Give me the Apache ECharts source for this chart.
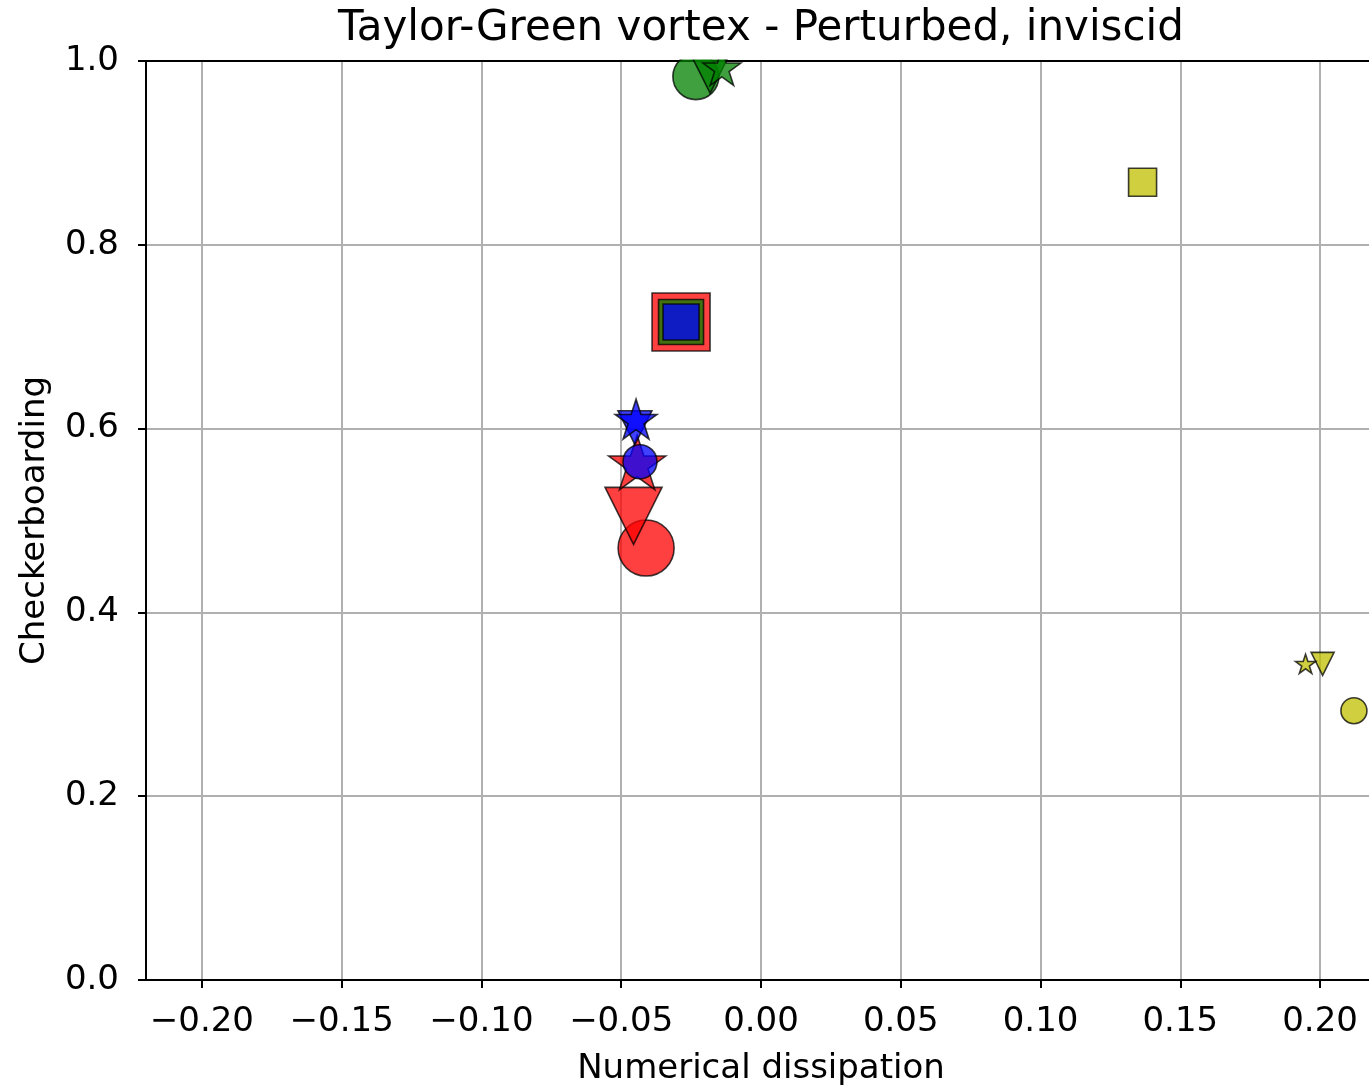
<!DOCTYPE html>
<html><head><meta charset="utf-8">
<script src="https://cdn.jsdelivr.net/npm/echarts@6/dist/echarts.min.js"></script>
<style>html,body{margin:0;padding:0;background:#fff;overflow:hidden}#c{width:1369px;height:1085px}</style>
</head><body><div id="c"></div>
<script>
// ---- data ----
const titleText = 'Taylor-Green vortex - Perturbed, inviscid';
const xName = 'Numerical dissipation';
const yName = 'Checkerboarding';
const xTicks = [-0.20, -0.15, -0.10, -0.05, 0.00, 0.05, 0.10, 0.15, 0.20];
const yTicks = [0.0, 0.2, 0.4, 0.6, 0.8, 1.0];
const markerNames = ['circle', 'triangle_down', 'star', 'square'];
const redX = [-0.0411, -0.0456, -0.0443, -0.0286];
const redY = [0.470, 0.505, 0.560, 0.716];
const greenX = [-0.0233, -0.0182, -0.0140, -0.0286];
const greenY = [0.983, 0.990, 0.991, 0.716];
const blueX = [-0.0433, -0.0451, -0.0447, -0.0286];
const blueY = [0.564, 0.601, 0.608, 0.716];
const yellowX = [0.2121, 0.2009, 0.1948, 0.1365];
const yellowY = [0.293, 0.344, 0.343, 0.868];

// ---- styles ----
const FONT = 'DejaVu Sans';
const groups = [
  {name: 'red', color: '#ff0000', xs: redX, ys: redY, sizes: [56, 57, 60, 58]},
  {name: 'green', color: '#008000', xs: greenX, ys: greenY, sizes: [46, 46, 40, 45]},
  {name: 'blue', color: '#0000ff', xs: blueX, ys: blueY, sizes: [34, 34, 44, 36]},
  {name: 'yellow', color: '#bfbf00', xs: yellowX, ys: yellowY, sizes: [26, 23, 21, 28]}
];
const STAR = 'path://M0,-100L-22.45,-30.9L-95.11,-30.9L-36.33,11.8L-58.78,80.9L0,38.2L58.78,80.9L36.33,11.8L95.11,-30.9L22.45,-30.9Z';

function symbolFor(m, s) {
  if (m === 'circle') return {symbol: 'circle', symbolSize: s};
  if (m === 'triangle_down') return {symbol: 'triangle', symbolSize: s, symbolRotate: 180};
  if (m === 'square') return {symbol: 'rect', symbolSize: s};
  return {symbol: STAR, symbolSize: [0.951 * s, 0.9045 * s], symbolOffset: [0, -0.0478 * s]};
}

const series = [];
groups.forEach(g => {
  markerNames.forEach((m, i) => {
    series.push(Object.assign({
      type: 'scatter',
      name: g.name + ' ' + m,
      data: [[g.xs[i], g.ys[i]]],
      itemStyle: {color: g.color, opacity: 0.75, borderColor: '#000', borderWidth: 1.6},
      emphasis: {disabled: true},
      silent: true,
      z: 2
    }, symbolFor(m, g.sizes[i])));
  });
});

const fmtX = v => {
  const s = Math.abs(v).toFixed(2);
  return (v < -1e-9 ? '\u2212' : '') + s;
};

const chart = echarts.init(document.getElementById('c'), null, {renderer: 'canvas'});
chart.setOption({
  animation: false,
  backgroundColor: '#fff',
  textStyle: {fontFamily: FONT},
  title: {
    text: titleText, left: 761, top: 8, textAlign: 'center', padding: 0, z: 10,
    textStyle: {fontFamily: FONT, fontSize: 42, fontWeight: 'normal', color: '#000'}
  },
  grid: {left: 146, width: 1230, top: 61, height: 919, containLabel: false, outerBoundsMode: 'none'},
  xAxis: [{
    type: 'value', min: -0.22, max: 0.22, position: 'bottom',
    name: xName, nameLocation: 'middle', nameGap: 72,
    nameTextStyle: {fontFamily: FONT, fontSize: 34, color: '#000'},
    axisLine: {show: true, onZero: false, lineStyle: {color: '#000', width: 2}},
    axisTick: {show: true, length: 8, customValues: xTicks, lineStyle: {color: '#000', width: 2}},
    axisLabel: {customValues: xTicks, formatter: fmtX, fontFamily: FONT, fontSize: 34, color: '#000', margin: 25},
    splitLine: {show: true, lineStyle: {color: '#b0b0b0', width: 2}}
  }, {
    type: 'value', min: -0.22, max: 0.22, position: 'top',
    axisLine: {show: true, onZero: false, lineStyle: {color: '#000', width: 2}},
    axisTick: {show: false}, axisLabel: {show: false}, splitLine: {show: false}
  }],
  yAxis: {
    type: 'value', min: 0, max: 1, interval: 0.2,
    name: yName, nameLocation: 'middle', nameGap: 94, nameRotate: 90,
    nameTextStyle: {fontFamily: FONT, fontSize: 34, color: '#000'},
    axisLine: {show: true, onZero: false, lineStyle: {color: '#000', width: 2}},
    axisTick: {show: true, length: 8, lineStyle: {color: '#000', width: 2}},
    axisLabel: {formatter: v => v.toFixed(1), fontFamily: FONT, fontSize: 34, color: '#000', margin: 27},
    splitLine: {show: true, lineStyle: {color: '#b0b0b0', width: 2}}
  },
  graphic: [{
    type: 'rect', shape: {x: 147, y: 0, width: 1230, height: 59.5},
    style: {fill: '#fff'}, z: 5, silent: true
  }],
  series: series
});
</script></body></html>
